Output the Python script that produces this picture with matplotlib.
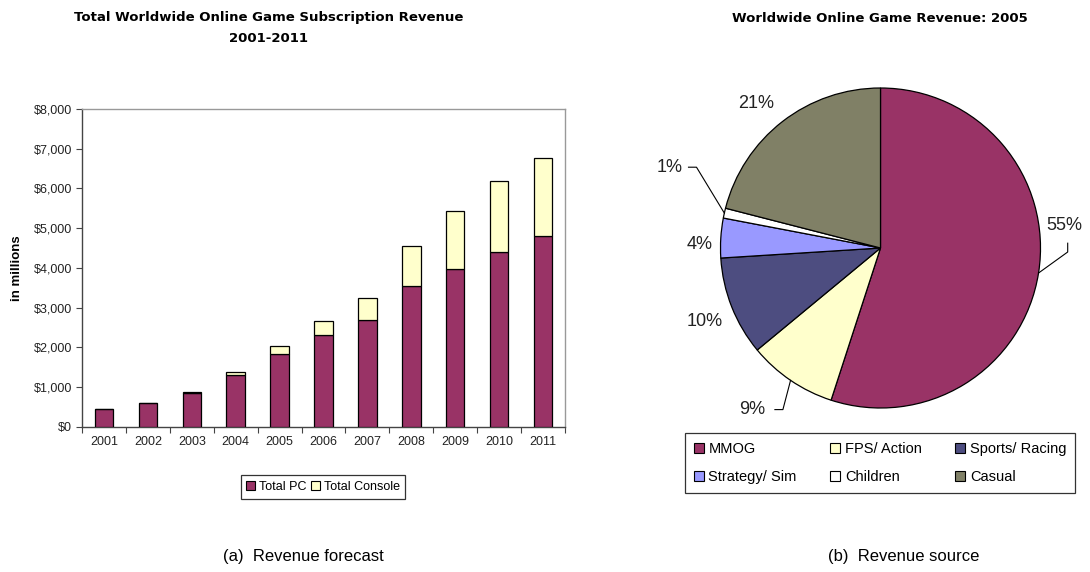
import numpy as np
import matplotlib
matplotlib.use("Agg")
import matplotlib.pyplot as plt
from matplotlib.patches import Patch

# ---- data -------------------------------------------------------------
years = ["2001", "2002", "2003", "2004", "2005", "2006",
         "2007", "2008", "2009", "2010", "2011"]
total_pc = [440, 600, 850, 1290, 1830, 2310, 2690, 3540, 3980, 4400, 4800]
total_console = [0, 0, 30, 95, 190, 340, 560, 1010, 1460, 1790, 1960]
ytick_values = [0, 1000, 2000, 3000, 4000, 5000, 6000, 7000, 8000]

genres = ["MMOG", "FPS/ Action", "Sports/ Racing",
          "Strategy/ Sim", "Children", "Casual"]
genre_share = [55, 9, 10, 4, 1, 21]

# ---- style ------------------------------------------------------------
PC_COLOR = "#993366"
CONSOLE_COLOR = "#FFFFCC"
genre_colors = ["#993366", "#FFFFCC", "#4D4D80", "#9999FF", "#FFFFFF", "#808066"]
SANS = ["Liberation Sans", "DejaVu Sans"]

W, H = 1090, 572
fig = plt.figure(figsize=(W / 100, H / 100), dpi=100)
fig.patch.set_facecolor("white")


def fx(px):
    return px / W


def fy(py):
    return 1 - py / H


# ---- (a) stacked bars -------------------------------------------------
ax1 = fig.add_axes([fx(82), fy(426.7), fx(565 - 82), (426.7 - 109) / H])
x = np.arange(len(years))
bw = 0.42
ax1.bar(x, total_pc, bw, color=PC_COLOR, edgecolor="black", linewidth=0.9,
        label="Total PC", zorder=3)
ax1.bar(x, total_console, bw, bottom=total_pc, color=CONSOLE_COLOR,
        edgecolor="black", linewidth=0.9, label="Total Console", zorder=3)

ax1.set_xlim(-0.5, len(years) - 0.5)
ax1.set_ylim(0, 8000)
ax1.set_yticks(ytick_values)
ax1.set_yticklabels(["${:,}".format(v) for v in ytick_values],
                    fontsize=9, family=SANS, color="#222222")
ax1.set_xticks(x)
ax1.set_xticklabels(years, fontsize=9, family=SANS, color="#222222")
ax1.set_xticks(np.arange(-0.5, len(years)), minor=True)
ax1.tick_params(axis="x", which="major", length=0, pad=7)
ax1.tick_params(axis="x", which="minor", length=4, width=0.8,
                color="#444444", direction="out")
ax1.tick_params(axis="y", length=4, width=0.8, color="#444444",
                direction="out", pad=3)
for side in ("left", "bottom"):
    ax1.spines[side].set_color("#444444")
    ax1.spines[side].set_linewidth(1.0)
for side in ("top", "right"):
    ax1.spines[side].set_color("#999999")
    ax1.spines[side].set_linewidth(1.0)

fig.text(fx(17), fy(268), "in millions", rotation=90, ha="center",
         va="center", fontsize=9.5, fontweight="bold", family=SANS)
fig.text(fx(269), fy(18), "Total Worldwide Online Game Subscription Revenue",
         ha="center", va="center", fontsize=9.5, fontweight="bold")
fig.text(fx(269), fy(38), "2001-2011", ha="center", va="center",
         fontsize=9.5, fontweight="bold")

bar_handles = [Patch(facecolor=PC_COLOR, edgecolor="black", linewidth=0.8),
               Patch(facecolor=CONSOLE_COLOR, edgecolor="black", linewidth=0.8)]
leg1 = fig.legend(bar_handles, ["Total PC", "Total Console"], ncol=2,
                  loc="center", bbox_to_anchor=(fx(323), fy(487)),
                  prop={"family": SANS, "size": 9}, frameon=True,
                  fancybox=False, edgecolor="black", handlelength=0.7,
                  handleheight=0.7, handletextpad=0.3, columnspacing=0.4,
                  borderpad=0.45)
leg1.get_frame().set_linewidth(0.9)

# ---- (b) pie ----------------------------------------------------------
cx, cy, r = 880.5, 248, 160
ax2 = fig.add_axes([fx(cx - r), fy(cy + r), fx(2 * r), 2 * r / H])
wedges, _ = ax2.pie(genre_share, colors=genre_colors, startangle=90,
                    counterclock=False, radius=1,
                    wedgeprops=dict(edgecolor="black", linewidth=0.9))
ax2.set_xlim(-1, 1)
ax2.set_ylim(-1, 1)
ax2.set_aspect("equal")
ax2.axis("off")


def mid_point(w, rad=1.0):
    ang = np.deg2rad((w.theta1 + w.theta2) / 2)
    return rad * np.cos(ang), rad * np.sin(ang)


# label anchor positions in axes units
label_pos = {
    "MMOG": (1.15, 0.14),
    "FPS/ Action": (-0.80, -1.01),
    "Sports/ Racing": (-1.10, -0.46),
    "Strategy/ Sim": (-1.13, 0.02),
    "Children": (-1.32, 0.50),
    "Casual": (-0.78, 0.90),
}
for name, share, w in zip(genres, genre_share, wedges):
    lx, ly = label_pos[name]
    ax2.text(lx, ly, f"{share}%", ha="center", va="center", fontsize=13,
             family=SANS, color="#222222", clip_on=False)

# leader lines
ex, ey = mid_point(wedges[0])
ax2.plot([1.17, 1.17, ex], [0.03, -0.025, ey], color="black", lw=0.8,
         clip_on=False)
ex, ey = mid_point(wedges[4])
ax2.plot([-1.20, -1.15, ex], [0.505, 0.505, ey], color="black", lw=0.8,
         clip_on=False)
ex, ey = mid_point(wedges[1])
ax2.plot([-0.66, -0.61, ex], [-1.01, -1.01, ey], color="black", lw=0.8,
         clip_on=False)

fig.text(fx(880), fy(18), "Worldwide Online Game Revenue: 2005",
         ha="center", va="center", fontsize=9.5, fontweight="bold")

pie_handles = [Patch(facecolor=c, edgecolor="black", linewidth=0.8)
               for c in genre_colors]
order = [0, 3, 1, 4, 2, 5]
leg2 = fig.legend([pie_handles[i] for i in order], [genres[i] for i in order],
                  ncol=3, loc="center", bbox_to_anchor=(fx(880), fy(463)),
                  prop={"family": SANS, "size": 10.5}, frameon=True,
                  fancybox=False, edgecolor="black", handlelength=0.7,
                  handleheight=0.7, handletextpad=0.3, columnspacing=2.3,
                  labelspacing=0.95, borderpad=0.6)
leg2.get_frame().set_linewidth(0.9)

# ---- captions ---------------------------------------------------------
fig.text(fx(303), fy(556), "(a)  Revenue forecast", ha="center", va="center",
         fontsize=12, family=SANS)
fig.text(fx(904), fy(556), "(b)  Revenue source", ha="center", va="center",
         fontsize=12, family=SANS)

fig.savefig("out.png", dpi=100, facecolor="white")
